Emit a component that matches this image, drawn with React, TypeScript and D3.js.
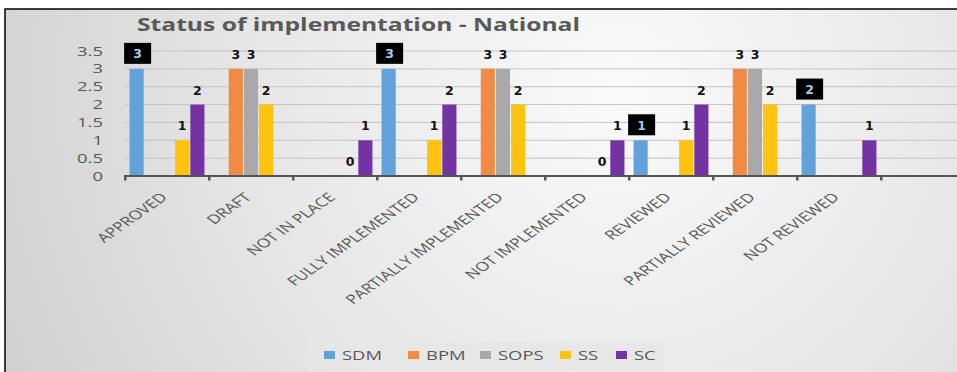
import React from "react";
import * as d3 from "d3";

const categories = [
  "APPROVED",
  "DRAFT",
  "NOT IN PLACE",
  "FULLY IMPLEMENTED",
  "PARTIALLY IMPLEMENTED",
  "NOT IMPLEMENTED",
  "REVIEWED",
  "PARTIALLY REVIEWED",
  "NOT REVIEWED",
];

const seriesNames = ["SDM", "BPM", "SOPS", "SS", "SC"];

const sdm = [3, null, null, 3, null, null, 1, null, 2];
const bpm = [null, 3, null, null, 3, null, null, 3, null];
const sops = [null, 3, null, null, 3, null, null, 3, null];
const ss = [1, 2, 0, 1, 2, 0, 1, 2, null];
const sc = [2, null, 1, 2, null, 1, 2, null, 1];

const yTicks = [0, 0.5, 1, 1.5, 2, 2.5, 3, 3.5];

const colors = ["#62a1da", "#f08a45", "#a9a9a9", "#ffc30f", "#7433a3"];

const W = 957;
const H = 372;
// horizontal stretch applied to the axis and legend text
const SX = 1.42;

export default function App() {
  const values: (number | null)[][] = [sdm, bpm, sops, ss, sc];

  const x = d3.scaleBand<string>().domain(categories).range([125, 881]).padding(0);
  const inner = d3
    .scaleBand<string>()
    .domain(seriesNames)
    .range([0, x.bandwidth()])
    .paddingInner(0.07)
    .paddingOuter(0.3);
  const y = d3.scaleLinear().domain([0, 3.5]).range([176, 51]);

  const tickXs = [...categories.map((c) => x(c)!), 881];
  const font = "'Open Sans', 'Liberation Sans', sans-serif";
  const labelFont = "'DejaVu Sans', sans-serif";

  return (
    <svg
      width={W}
      height={H}
      style={{ position: "absolute", left: 0, top: 0 }}
      fontFamily={font}
    >
      <defs>
        <radialGradient id="bg" gradientUnits="userSpaceOnUse" cx={620} cy={90} r={680}>
          <stop offset="0" stopColor="#fafafa" />
          <stop offset="0.55" stopColor="#e6e6e6" />
          <stop offset="1" stopColor="#d0d0d0" />
        </radialGradient>
      </defs>
      <rect x={0} y={0} width={W} height={H} fill="#ffffff" />
      <rect x={5} y={9} width={W} height={H} fill="url(#bg)" stroke="#000" strokeWidth={1.5} />

      <text
        x={137}
        y={31}
        fontSize={18.5}
        fontWeight={700}
        fill="#595959"
        textLength={443}
        lengthAdjust="spacingAndGlyphs"
      >
        Status of implementation - National
      </text>

      {/* gridlines */}
      {yTicks.slice(1).map((t) => (
        <line key={t} x1={125} x2={W} y1={y(t)} y2={y(t)} stroke="#c4c4c4" strokeWidth={1} />
      ))}
      {yTicks.map((t) => (
        <text
          key={"yl" + t}
          transform={`translate(103,${y(t)}) scale(${SX},1)`}
          dy="0.35em"
          textAnchor="end"
          fontSize={13}
          fill="#595959"
        >
          {t}
        </text>
      ))}

      {/* bars */}
      {categories.map((c, ci) =>
        seriesNames.map((s, si) => {
          const v = values[si][ci];
          if (v === null || v === 0) return null;
          return (
            <rect
              key={c + s}
              x={x(c)! + inner(s)!}
              y={y(v)}
              width={inner.bandwidth()}
              height={y(0) - y(v)}
              fill={colors[si]}
            />
          );
        })
      )}

      {/* axis */}
      <line x1={124} x2={W} y1={y(0)} y2={y(0)} stroke="#555" strokeWidth={2.2} />
      {tickXs.map((tx, i) => (
        <rect key={"t" + i} x={tx - 1} y={y(0) + 1} width={2.5} height={3.5} fill="#555" />
      ))}

      {/* data labels */}
      {categories.map((c, ci) =>
        seriesNames.map((s, si) => {
          const v = values[si][ci];
          if (v === null) return null;
          const cx = x(c)! + inner(s)! + inner.bandwidth() / 2;
          const top = y(v);
          if (s === "SDM") {
            return (
              <g key={"l" + c + s}>
                <rect x={cx - 12.5} y={top - 26} width={27} height={21} fill="#000" />
                <text
                  x={cx + 1}
                  y={top - 10.5}
                  textAnchor="middle"
                  fontSize={12.5}
                  fontWeight={700}
                  fontFamily={labelFont}
                  fill="#a9cbe9"
                >
                  {v}
                </text>
              </g>
            );
          }
          return (
            <text
              key={"l" + c + s}
              x={cx}
              y={top - 10}
              textAnchor="middle"
              fontSize={12.5}
              fontWeight={700}
              fontFamily={labelFont}
              fill="#111"
            >
              {v}
            </text>
          );
        })
      )}

      {/* category labels */}
      {categories.map((c) => {
        const cx = x(c)! + x.bandwidth() / 2;
        return (
          <text
            key={"c" + c}
            transform={`translate(${cx - 3},${y(0) + 19}) scale(${SX},1) rotate(-45)`}
            textAnchor="end"
            dy="0.35em"
            fontSize={12.5}
            fill="#595959"
          >
            {c}
          </text>
        );
      })}

      {/* legend */}
      <rect x={306} y={342} width={358} height={28} fill="#e6e6e6" opacity={0.85} />
      {seriesNames.map((s, i) => {
        const lx = [324, 408, 480, 560, 616][i];
        return (
          <g key={"lg" + s}>
            <rect x={lx} y={351} width={11} height={8} fill={colors[i]} />
            <text
              transform={`translate(${lx + 18},355) scale(${SX},1)`}
              dy="0.35em"
              fontSize={13}
              fill="#595959"
            >
              {s}
            </text>
          </g>
        );
      })}
    </svg>
  );
}
